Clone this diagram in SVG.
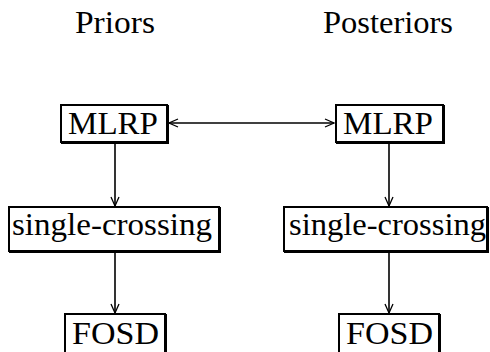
<svg xmlns="http://www.w3.org/2000/svg" width="490" height="352" viewBox="0 0 490 352">
  <style>
    .lbl { font-family: "Liberation Serif", "Times New Roman", Times, serif; font-size: 31px; fill: #000; }
    .box { fill: #fff; stroke: #000; stroke-width: 2; }
    .shade { fill: none; stroke: #000; stroke-width: 2; }
    .edge { fill: none; stroke: #000; stroke-width: 1.6; }
  </style>
  <defs>
    <marker id="vhead" markerUnits="userSpaceOnUse" markerWidth="12" markerHeight="12" refX="10" refY="5" orient="auto-start-reverse" viewBox="0 0 12 10">
      <path d="M1,1 L10,5 L1,9" fill="none" stroke="#000" stroke-width="1.3"/>
    </marker>
  </defs>
  <rect width="490" height="352" fill="#fff"/>

  <!-- column headings -->
  <g id="heading-priors">
    <text class="lbl" x="75" y="33" textLength="80" lengthAdjust="spacingAndGlyphs">Priors</text>
  </g>
  <g id="heading-posteriors">
    <text class="lbl" x="323" y="33" textLength="130" lengthAdjust="spacingAndGlyphs">Posteriors</text>
  </g>

  <!-- connectors -->
  <g id="connectors">
    <line class="edge" x1="169" y1="123" x2="334" y2="123" marker-start="url(#vhead)" marker-end="url(#vhead)"/>
    <line class="edge" x1="115" y1="144" x2="115" y2="206" marker-end="url(#vhead)"/>
    <line class="edge" x1="115" y1="253" x2="115" y2="313" marker-end="url(#vhead)"/>
    <line class="edge" x1="389" y1="144" x2="389" y2="206" marker-end="url(#vhead)"/>
    <line class="edge" x1="389" y1="253" x2="389" y2="313" marker-end="url(#vhead)"/>
  </g>

  <!-- left column -->
  <g id="mlrp-priors">
    <rect class="box" x="61" y="105" width="106" height="37"/>
    <path class="shade" d="M168,105 V143 H61"/>
    <text class="lbl" x="68" y="134" textLength="90" lengthAdjust="spacingAndGlyphs">MLRP</text>
  </g>
  <g id="single-crossing-priors">
    <rect class="box" x="9" y="207" width="210" height="44"/>
    <path class="shade" d="M220,207 V252 H9"/>
    <text class="lbl" x="12" y="235" textLength="200" lengthAdjust="spacingAndGlyphs">single-crossing</text>
  </g>
  <g id="fosd-priors">
    <rect class="box" x="65" y="314" width="100" height="50"/>
    <path class="shade" d="M166,314 V364"/>
    <text class="lbl" x="72" y="344" textLength="87" lengthAdjust="spacingAndGlyphs">FOSD</text>
  </g>

  <!-- right column -->
  <g id="mlrp-posteriors">
    <rect class="box" x="336" y="105" width="107" height="37"/>
    <path class="shade" d="M444,105 V143 H336"/>
    <text class="lbl" x="343" y="134" textLength="90" lengthAdjust="spacingAndGlyphs">MLRP</text>
  </g>
  <g id="single-crossing-posteriors">
    <rect class="box" x="284" y="207" width="203" height="44"/>
    <path class="shade" d="M488,207 V252 H284"/>
    <text class="lbl" x="289" y="235" textLength="197" lengthAdjust="spacingAndGlyphs">single-crossing</text>
  </g>
  <g id="fosd-posteriors">
    <rect class="box" x="339" y="314" width="100" height="50"/>
    <path class="shade" d="M440,314 V364"/>
    <text class="lbl" x="346" y="344" textLength="87" lengthAdjust="spacingAndGlyphs">FOSD</text>
  </g>
</svg>
